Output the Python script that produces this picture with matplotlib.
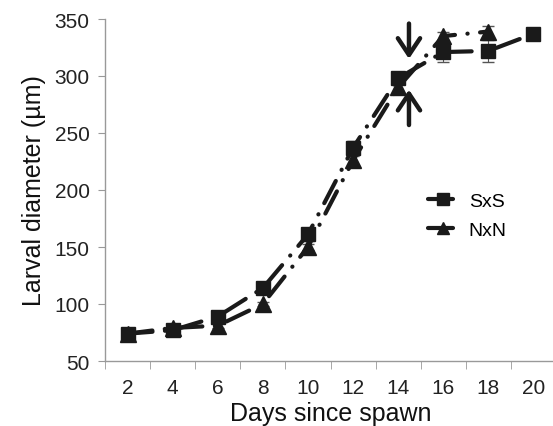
import numpy as np
import matplotlib.pyplot as plt
from matplotlib.legend_handler import HandlerLine2D

plt.rcParams['font.family'] = ['Liberation Sans', 'DejaVu Sans']

# Data
days = ['2', '4', '6', '8', '10', '12', '14', '16', '18', '20']
sxs = [74, 77, 89, 114, 161, 237, 298, 321, 322, 337]
sxs_err = [1, 1, 2, 3, 6, 6, 5, 9, 10, 2]
nxn = [74, 79, 81, 100, 150, 226, 290, 335, 339]
nxn_err = [1, 1, 2, 2, 3, 4, 6, 4, 5]


# legend sample: dash, then marker, then a dot (marker off-centre)
class MarkerRight(HandlerLine2D):
    def get_xdata(self, legend, xdescent, ydescent, width, height, fontsize):
        xdata = np.array([-xdescent, -xdescent + width])
        return xdata, np.array([-xdescent + width * 0.55])


fig = plt.figure(figsize=(5.53, 4.27), dpi=100)
ax = fig.add_axes([105 / 553, 65 / 427, 451 / 553, 342 / 427])

x_s = list(range(len(sxs)))
x_n = list(range(len(nxn)))

style = dict(color='#1a1a1a', lw=3.0, dash_capstyle='round', dashes=(6, 3, 0.05, 3))

ax.errorbar(x_s, sxs, yerr=sxs_err, fmt='none', ecolor='#555555', elinewidth=0.8, capsize=4)
ax.errorbar(x_n, nxn, yerr=nxn_err, fmt='none', ecolor='#555555', elinewidth=0.8, capsize=4)
l1, = ax.plot(x_s, sxs, marker='s', markersize=10.5, label='SxS', **style)
l2, = ax.plot(x_n, nxn, marker='^', markersize=11, label='NxN', **style)

# arrows around day 14
arrow = dict(arrowstyle='->,head_length=0.6,head_width=0.4', lw=3.2,
             color='#1a1a1a', mutation_scale=20, shrinkA=0, shrinkB=0)
ax.annotate('', xy=(6.24, 315), xytext=(6.24, 346), arrowprops=arrow)
ax.annotate('', xy=(6.24, 288), xytext=(6.24, 257), arrowprops=arrow)

ax.set_xlim(-0.5, 9.5)
ax.set_ylim(50, 350)
ax.set_yticks([50, 100, 150, 200, 250, 300, 350])
ax.set_xticks(x_s)
ax.set_xticklabels(days)
ax.set_xticks([i - 0.5 for i in range(11)], minor=True)
ax.tick_params(axis='x', which='major', length=0, labelsize=15, colors='#222222', pad=12)
ax.tick_params(axis='x', which='minor', length=6, color='#999999')
ax.tick_params(axis='y', length=5, color='#999999', labelsize=15, labelcolor='#222222', pad=6)

for s in ['top', 'right']:
    ax.spines[s].set_visible(False)
for s in ['left', 'bottom']:
    ax.spines[s].set_color('#999999')
    ax.spines[s].set_linewidth(1.0)

ax.set_xlabel('Days since spawn', fontsize=18, color='#111111', labelpad=3)
ax.set_ylabel('Larval diameter (µm)', fontsize=18, color='#111111', labelpad=6)

ax.legend(handles=[l1, l2], loc='center left', bbox_to_anchor=(0.716, 0.425), frameon=False,
          fontsize=14, handlelength=1.6, handletextpad=0.5, labelspacing=0.55, borderpad=0,
          borderaxespad=0, handler_map={l1: MarkerRight(), l2: MarkerRight()},
          markerscale=0.8)

fig.savefig('out.png', dpi=100)
